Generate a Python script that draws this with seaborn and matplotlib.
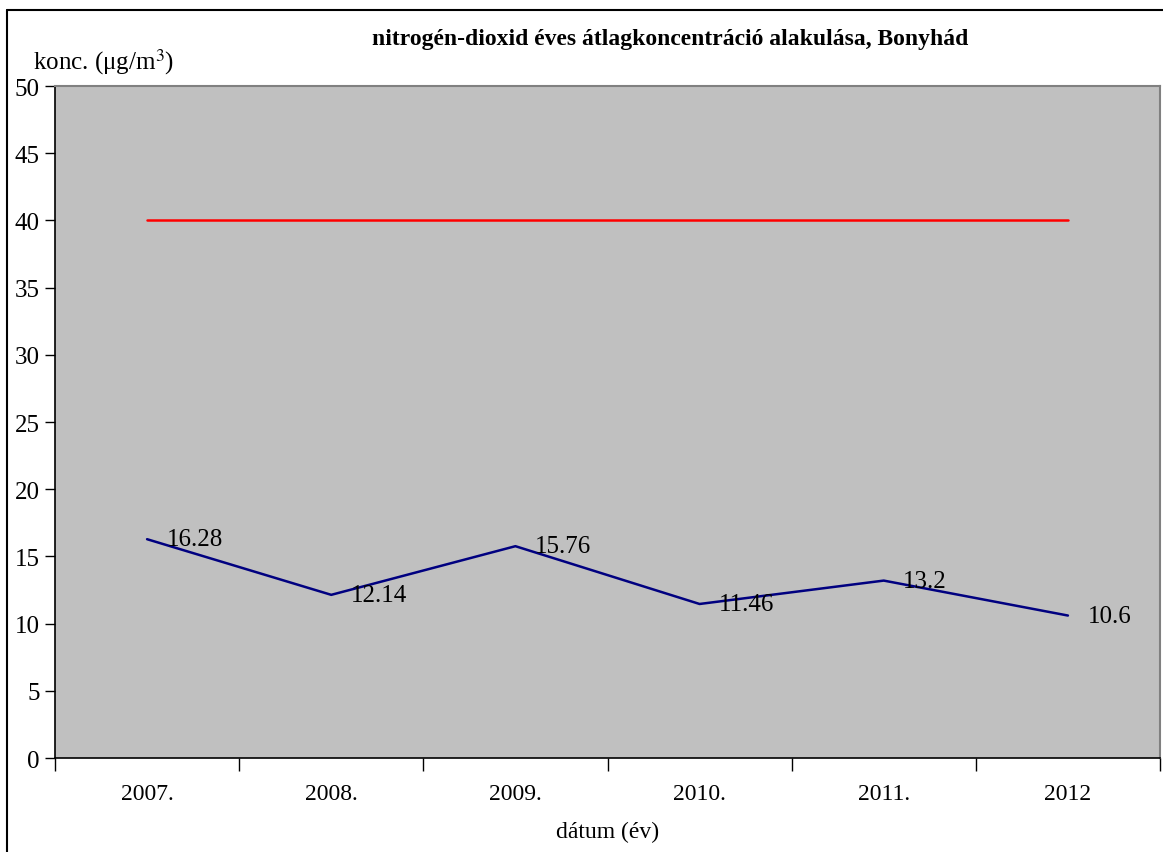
import numpy as np
import pandas as pd
import seaborn as sns
from matplotlib import pyplot as plt
from matplotlib.lines import Line2D

years = ["2007.", "2008.", "2009.", "2010.", "2011.", "2012"]
no2 = [16.28, 12.14, 15.76, 11.46, 13.2, 10.6]
limit = [40, 40, 40, 40, 40, 40]

sns.set_style("white")
plt.rcParams['font.family'] = ['Liberation Serif', 'DejaVu Serif']
plt.rcParams['mathtext.fontset'] = 'stix'
plt.rcParams['text.color'] = 'black'
plt.rcParams['xtick.color'] = 'black'
plt.rcParams['ytick.color'] = 'black'
plt.rcParams['axes.labelcolor'] = 'black'

fig = plt.figure(figsize=(11.63, 8.53), dpi=100)
ax = fig.add_axes([55 / 1163, 1 - 759 / 853, 1105 / 1163, 672 / 853])
ax.set_facecolor('#C0C0C0')

df = pd.DataFrame({"year": years, "no2": no2, "limit": limit})
pos = np.arange(len(years))
sns.lineplot(x=pos, y=df["limit"], color='#FF0000', lw=1.8, ax=ax)
sns.lineplot(x=pos, y=df["no2"], color='#000080', lw=1.8, ax=ax)

for i, v in enumerate(no2):
    ax.annotate(f"{v:g}", (i, v), xytext=(14, 0), textcoords='offset points',
                va='center', ha='left', fontsize=18, color='black')

ax.set_xlim(-0.5, len(years) - 0.5)
ax.set_ylim(0, 50)
ax.set_yticks(np.arange(0, 51, 5))
ax.set_xticks(np.arange(-0.5, len(years)), labels=[])
ax.set_xticks(pos, labels=years, minor=True)
ax.tick_params(axis='y', which='major', direction='out', length=7, width=1, labelsize=18, left=True, pad=4)
ax.tick_params(axis='x', which='major', direction='out', length=9, width=1, bottom=True)
ax.tick_params(axis='x', which='minor', length=0, labelsize=17, pad=18)

for s in ['top', 'right']:
    ax.spines[s].set_color('#808080')
    ax.spines[s].set_linewidth(1.5)
for s in ['left', 'bottom']:
    ax.spines[s].set_color('black')
    ax.spines[s].set_linewidth(1.2)

ax.set_xlabel("dátum (év)", fontsize=17, labelpad=12)
ax.set_ylabel("")
fig.text(33 / 1163, 1 - 62 / 853, "konc. (μg/m$^3$)", fontsize=18, va='center', ha='left')
fig.text(670 / 1163, 1 - 39 / 853, "nitrogén-dioxid éves átlagkoncentráció alakulása, Bonyhád",
         fontsize=17, fontweight='bold', ha='center', va='center')

# outer chart frame (left and top edges visible)
fig.add_artist(Line2D([7 / 1163, 7 / 1163], [0, 1 - 11 / 853], color='black', lw=1.5, transform=fig.transFigure))
fig.add_artist(Line2D([7 / 1163, 1], [1 - 11 / 853, 1 - 11 / 853], color='black', lw=1.5, transform=fig.transFigure))

fig.savefig('out.png', dpi=100)
